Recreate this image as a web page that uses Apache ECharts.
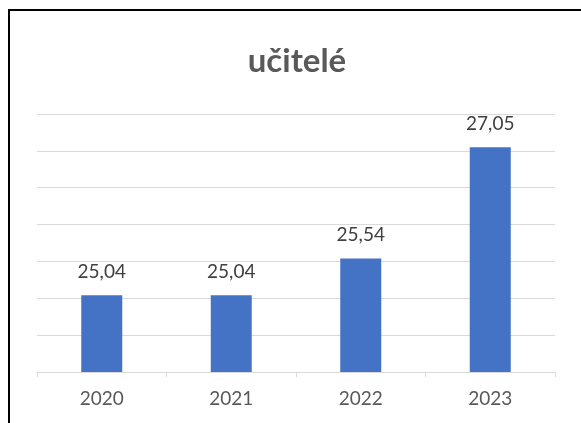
<!DOCTYPE html>
<html>
<head>
<meta charset="utf-8">
<script src="https://cdn.jsdelivr.net/npm/echarts@6/dist/echarts.min.js"></script>
<style>html,body{margin:0;padding:0;background:#fff;}#c{width:581px;height:423px;}</style>
</head>
<body>
<div id="c"></div>
<script>
const categories = ['2020', '2021', '2022', '2023'];
const values = [25.04, 25.04, 25.54, 27.05];
const titleText = 'učitelé';

const chart = echarts.init(document.getElementById('c'), null, {renderer: 'canvas'});
chart.setOption({
  animation: false,
  backgroundColor: '#ffffff',
  title: {
    text: titleText,
    left: 292, top: 40, textAlign: 'center',
    textStyle: {fontFamily: 'Lato', fontWeight: 'bold', fontSize: 33, color: '#595959'}
  },
  graphic: [
    {type: 'rect', shape: {x: 8, y: 9, width: 573, height: 2}, style: {fill: '#000'}},
    {type: 'rect', shape: {x: 8, y: 9, width: 2, height: 414}, style: {fill: '#000'}}
  ],
  grid: {left: 37, right: 26, top: 114, bottom: 51},
  xAxis: {
    type: 'category', data: categories,
    axisLine: {lineStyle: {color: '#d9d9d9', width: 1}},
    axisTick: {show: true, length: 5, lineStyle: {color: '#d9d9d9'}},
    axisLabel: {color: '#595959', fontFamily: 'Lato', fontSize: 19, margin: 17}
  },
  yAxis: {
    type: 'value', min: 24, max: 27.5, interval: 0.5,
    axisLabel: {show: false}, axisLine: {show: false}, axisTick: {show: false},
    splitLine: {lineStyle: {color: '#d9d9d9', width: 1}}
  },
  series: [{
    type: 'bar', data: values, barWidth: 41,
    itemStyle: {color: '#4472c4'},
    label: {
      show: true, position: 'top', distance: 14,
      color: '#404040', fontFamily: 'Lato', fontSize: 19,
      formatter: p => p.value.toFixed(2).replace('.', ',')
    }
  }]
});
</script>
</body>
</html>
